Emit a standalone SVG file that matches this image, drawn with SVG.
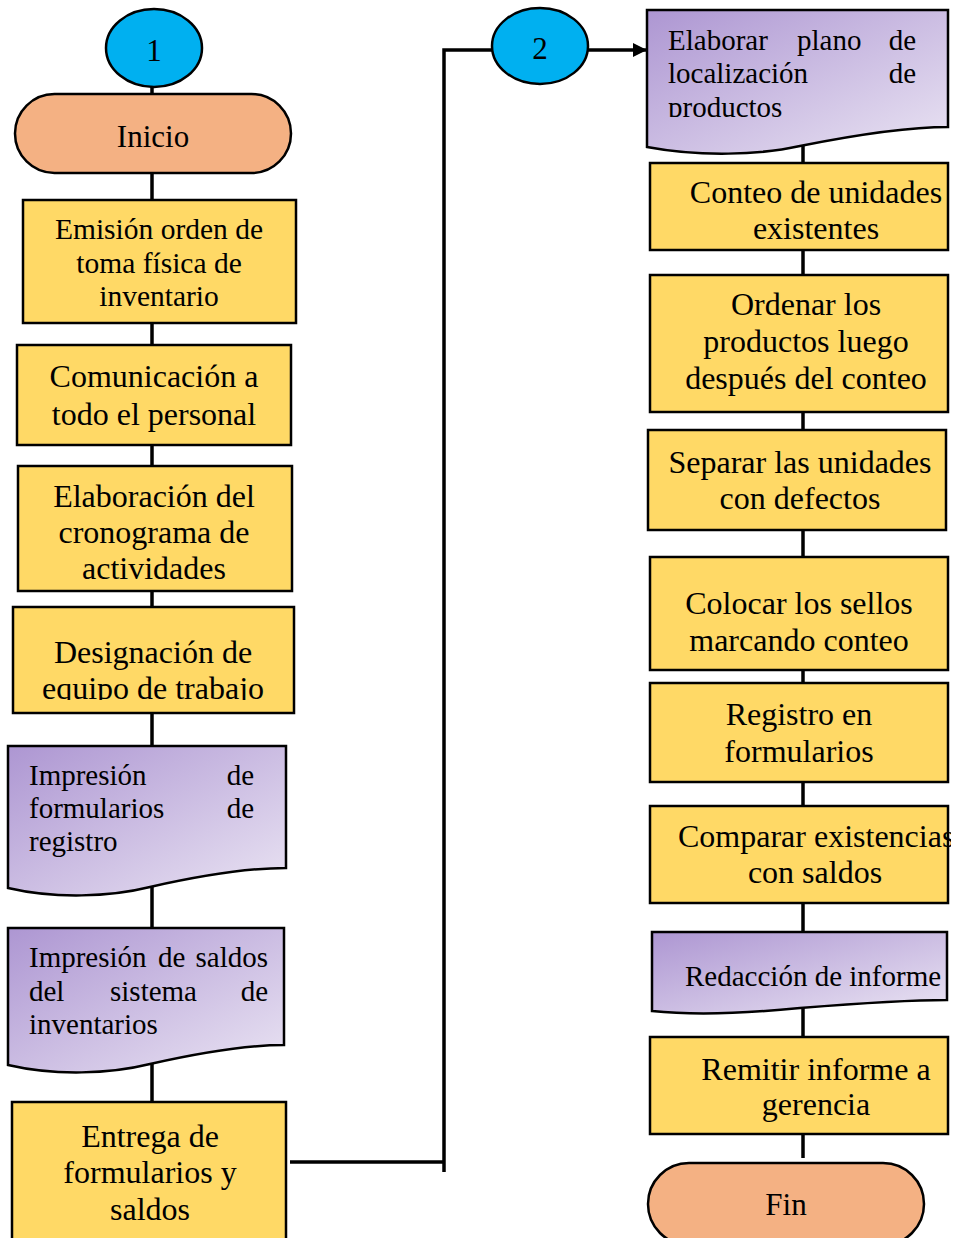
<svg xmlns="http://www.w3.org/2000/svg" width="953" height="1238" viewBox="0 0 953 1238">
  <defs>
    <linearGradient id="docFill" x1="0" y1="0" x2="1" y2="1">
      <stop offset="0" stop-color="#AD96D2"/>
      <stop offset="1" stop-color="#EAE4F3"/>
    </linearGradient>
    <marker id="arrow" viewBox="0 0 14 14" refX="14" refY="7" markerWidth="14" markerHeight="14" markerUnits="userSpaceOnUse" orient="auto">
      <path d="M0,0 L14,7 L0,14 Z" fill="#000"/>
    </marker>
    <clipPath id="clipDesignacion"><rect x="13" y="607" width="281" height="93"/></clipPath>
    <clipPath id="clipPlano"><rect x="647" y="10" width="301" height="107"/></clipPath>
    <clipPath id="clipComparar"><rect x="640" y="806" width="311" height="97"/></clipPath>
  </defs>
  <style>
    .proc { fill: #FFD966; stroke: #000; stroke-width: 2.5; }
    .doc { fill: url(#docFill); stroke: #000; stroke-width: 2.5; }
    .term { fill: #F4B183; stroke: #000; stroke-width: 2.5; }
    .conn { fill: #00B0F0; stroke: #000; stroke-width: 2.5; }
    .line { fill: none; stroke: #000; stroke-width: 3.5; }
    text { font-family: "Liberation Serif", "Times New Roman", serif; fill: #000; }
    .t { font-size: 32px; text-anchor: middle; }
    .k { font-size: 31px; text-anchor: middle; }
    .s { font-size: 29px; }
    .m { font-size: 29.5px; text-anchor: middle; }
    .e { text-anchor: end; }
  </style>

  <!-- connectors -->
  <g id="connectors">
    <line class="line" x1="152" y1="85" x2="152" y2="1104"/>
    <line class="line" x1="803" y1="140" x2="803" y2="1158"/>
    <polyline class="line" points="290,1162 444,1162"/>
    <polyline class="line" points="444,1172 444,50 494,50"/>
    <line class="line" x1="588" y1="50" x2="647" y2="50" marker-end="url(#arrow)"/>
  </g>

  <!-- left column -->
  <g id="n-c1">
    <ellipse class="conn" cx="154" cy="48" rx="48" ry="39"/>
    <text class="k" x="154" y="61">1</text>
  </g>
  <g id="n-inicio">
    <rect class="term" x="15" y="94" width="276" height="79" rx="39.5"/>
    <text class="k" x="153" y="147">Inicio</text>
  </g>
  <g id="n-emision">
    <rect class="proc" x="23" y="200" width="273" height="123"/>
    <text class="m" x="159" y="239">Emisión orden de</text>
    <text class="m" x="159" y="273">toma física de</text>
    <text class="m" x="159" y="306">inventario</text>
  </g>
  <g id="n-comunicacion">
    <rect class="proc" x="17" y="345" width="274" height="100"/>
    <text class="t" x="154" y="387">Comunicación a</text>
    <text class="t" x="154" y="425">todo el personal</text>
  </g>
  <g id="n-cronograma">
    <rect class="proc" x="18" y="466" width="274" height="125"/>
    <text class="t" x="154" y="507">Elaboración del</text>
    <text class="t" x="154" y="543">cronograma de</text>
    <text class="t" x="154" y="579">actividades</text>
  </g>
  <g id="n-designacion">
    <rect class="proc" x="13" y="607" width="281" height="106"/>
    <text class="t" x="153" y="663">Designación de</text>
    <text class="t" x="153" y="699" clip-path="url(#clipDesignacion)">equipo de trabajo</text>
  </g>
  <g id="n-formularios">
    <path class="doc" d="M8,746 H286 V868 C240,868 190,878 150,887 C110,897 55,899 8,888 Z"/>
    <text class="s" x="29" y="785">Impresión</text>
    <text class="s e" x="254" y="785">de</text>
    <text class="s" x="29" y="818">formularios</text>
    <text class="s e" x="254" y="818">de</text>
    <text class="s" x="29" y="851">registro</text>
  </g>
  <g id="n-saldos">
    <path class="doc" d="M8,928 H284 V1045 C240,1045 190,1055 150,1064 C110,1074 55,1076 8,1065 Z"/>
    <text class="s" x="29" y="967">Impresión</text>
    <text class="s" x="158" y="967">de</text>
    <text class="s e" x="268" y="967">saldos</text>
    <text class="s" x="29" y="1001">del</text>
    <text class="s" x="110" y="1001">sistema</text>
    <text class="s e" x="268" y="1001">de</text>
    <text class="s" x="29" y="1034">inventarios</text>
  </g>
  <g id="n-entrega">
    <rect class="proc" x="12" y="1102" width="274" height="150"/>
    <text class="t" x="150" y="1147">Entrega de</text>
    <text class="t" x="150" y="1183">formularios y</text>
    <text class="t" x="150" y="1220">saldos</text>
  </g>

  <!-- right column -->
  <g id="n-c2">
    <ellipse class="conn" cx="540" cy="46" rx="48" ry="38"/>
    <text class="k" x="540" y="59">2</text>
  </g>
  <g id="n-plano">
    <path class="doc" d="M647,10 H948 V127 C900,127 845,137 800,146 C760,155 700,157 647,147 Z"/>
    <g clip-path="url(#clipPlano)">
      <text class="s" x="668" y="50">Elaborar</text>
      <text class="s" x="797" y="50">plano</text>
      <text class="s e" x="916" y="50">de</text>
      <text class="s" x="668" y="83">localización</text>
      <text class="s e" x="916" y="83">de</text>
      <text class="s" x="668" y="117">productos</text>
    </g>
  </g>
  <g id="n-conteo">
    <rect class="proc" x="650" y="163" width="298" height="87"/>
    <text class="t" x="816" y="203">Conteo de unidades</text>
    <text class="t" x="816" y="239">existentes</text>
  </g>
  <g id="n-ordenar">
    <rect class="proc" x="650" y="275" width="298" height="137"/>
    <text class="t" x="806" y="315">Ordenar los</text>
    <text class="t" x="806" y="352">productos luego</text>
    <text class="t" x="806" y="389">después del conteo</text>
  </g>
  <g id="n-separar">
    <rect class="proc" x="648" y="430" width="298" height="100"/>
    <text class="t" x="800" y="473">Separar las unidades</text>
    <text class="t" x="800" y="509">con defectos</text>
  </g>
  <g id="n-sellos">
    <rect class="proc" x="650" y="557" width="298" height="113"/>
    <text class="t" x="799" y="614">Colocar los sellos</text>
    <text class="t" x="799" y="651">marcando conteo</text>
  </g>
  <g id="n-registro">
    <rect class="proc" x="650" y="683" width="298" height="99"/>
    <text class="t" x="799" y="725">Registro en</text>
    <text class="t" x="799" y="762">formularios</text>
  </g>
  <g id="n-comparar">
    <rect class="proc" x="650" y="806" width="298" height="97"/>
    <text class="t" x="678" y="847" style="text-anchor:start" clip-path="url(#clipComparar)">Comparar existencias</text>
    <text class="t" x="815" y="883">con saldos</text>
  </g>
  <g id="n-informe">
    <path class="doc" d="M652,932 H947 V1000 C900,1000 850,1004 800,1008 C760,1012 700,1016 652,1011 Z"/>
    <text class="s" x="685" y="986">Redacción de informe</text>
  </g>
  <g id="n-remitir">
    <rect class="proc" x="650" y="1037" width="298" height="97"/>
    <text class="t" x="816" y="1080">Remitir informe a</text>
    <text class="t" x="816" y="1115">gerencia</text>
  </g>
  <g id="n-fin">
    <rect class="term" x="648" y="1163" width="276" height="82" rx="41"/>
    <text class="k" x="786" y="1215">Fin</text>
  </g>
</svg>
